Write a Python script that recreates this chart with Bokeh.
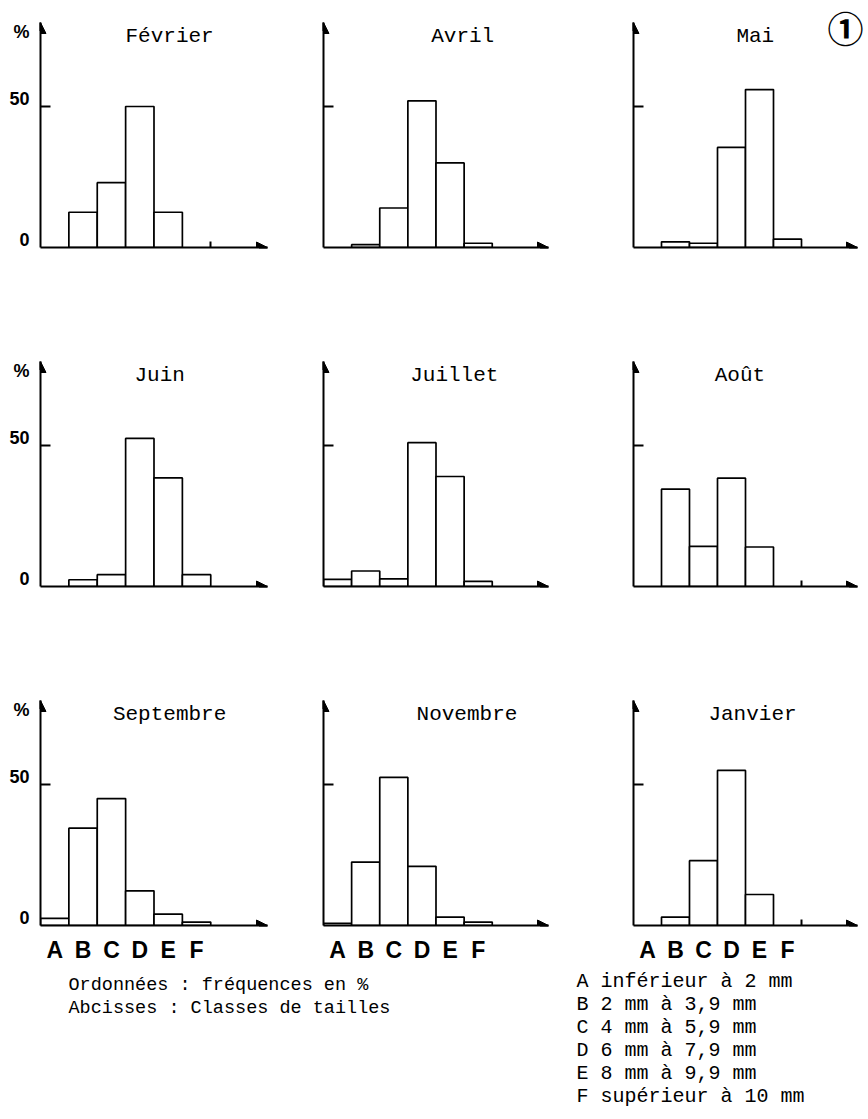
from bokeh.plotting import figure
from bokeh.layouts import column, row
from bokeh.models import (Range1d, FixedTicker, Arrow, NormalHead, Label,
                          LinearAxis, ColumnDataSource)
from bokeh.embed import file_html
from bokeh.resources import INLINE
from bokeh.core.properties import value

# ---------------- data ----------------
classes = ["A", "B", "C", "D", "E", "F"]
months = ["Février", "Avril", "Mai",
          "Juin", "Juillet", "Août",
          "Septembre", "Novembre", "Janvier"]
fevrier   = [0.0, 12.5, 23.0, 50.0, 12.5, 0.0]
avril     = [0.0, 1.0, 14.0, 52.0, 30.0, 1.5]
mai       = [0.0, 2.0, 1.5, 35.5, 56.0, 3.0]
juin      = [0.0, 2.4, 4.2, 52.5, 38.5, 4.2]
juillet   = [2.5, 5.5, 2.7, 51.0, 39.0, 1.8]
aout      = [0.0, 34.5, 14.2, 38.4, 14.0, 0.0]
septembre = [2.5, 34.5, 45.0, 12.3, 4.0, 1.2]
novembre  = [0.8, 22.5, 52.5, 21.0, 3.0, 1.2]
janvier   = [0.0, 3.0, 23.0, 55.0, 11.0, 0.0]
series = [fevrier, avril, mai, juin, juillet, aout, septembre, novembre, janvier]
y_labels = ["0", "50"]
y_label_values = [0, 50]
unit_label = "%"
notes_left = ["Ordonnées : fréquences en %", "Abcisses : Classes de tailles"]
notes_right = ["A inférieur à 2 mm", "B 2 mm à 3,9 mm", "C 4 mm à 5,9 mm",
               "D 6 mm à 7,9 mm", "E 8 mm à 9,9 mm", "F supérieur à 10 mm"]
figure_number = "①"

# ---------------- layout ----------------
PX_PER_PCT = 141 / 50
FRAME_H = 225
Y_TOP = FRAME_H / PX_PER_PCT
LABEL_LIFT = 2.6                      # tick labels sit slightly above their tick
Y_PCT = round(Y_TOP - 3.2, 2)
X_END = 8
col_w = [290, 310, 266]
b_left = [40, 33, 33]
frame_w = [227, 225, 224]
row_h = [300, 340, 325]
b_top = [22, 61, 60]
title_x = [4.55, 4.95, 4.35, 4.2, 4.65, 3.8, 4.55, 5.1, 4.25]
SANS = "Liberation Sans"
MONO = "Liberation Mono"


def panel(k):
    r, c = divmod(k, 3)
    vals = series[k]
    top_b = b_top[r]
    right_b = col_w[c] - b_left[c] - frame_w[c]
    x_hi, y_hi = X_END, Y_TOP
    if r == 0:
        # frame reaches the canvas top so the figure number can sit inside it
        y_hi = Y_TOP * (FRAME_H + top_b) / FRAME_H
        top_b = 0
    if k == 2:
        x_hi = X_END * (col_w[c] - b_left[c]) / frame_w[c]
        right_b = 0
    p = figure(width=col_w[c], height=row_h[r],
               x_range=Range1d(0, x_hi), y_range=Range1d(0, y_hi),
               output_backend="svg", toolbar_location=None,
               x_axis_location=None, y_axis_location=None,
               min_border_left=b_left[c], min_border_right=right_b,
               min_border_top=top_b,
               min_border_bottom=row_h[r] - b_top[r] - FRAME_H)
    p.outline_line_color = None
    p.xgrid.visible = False
    p.ygrid.visible = False

    label_pos = [round(v + LABEL_LIFT, 2) for v in y_label_values]
    overrides = {lp: t for lp, t in zip(label_pos, y_labels)}
    overrides[Y_PCT] = unit_label
    ya = LinearAxis(ticker=FixedTicker(ticks=label_pos + [Y_PCT], minor_ticks=[50]),
                    bounds=(0, Y_TOP),
                    major_label_overrides=overrides,
                    axis_line_width=2, axis_line_color="black",
                    major_tick_line_color=None,
                    minor_tick_in=10, minor_tick_out=0,
                    minor_tick_line_width=2, minor_tick_line_color="black",
                    major_label_standoff=5,
                    major_label_text_font=SANS,
                    major_label_text_font_style="bold",
                    major_label_text_font_size="18px",
                    major_label_text_color="black" if c == 0 else None)
    p.add_layout(ya, "left")

    minor = [6] if vals[-1] == 0 else []
    if r == 2:
        pos = [i + 0.5 for i in range(len(classes))]
        xa = LinearAxis(ticker=FixedTicker(ticks=pos, minor_ticks=minor),
                        major_label_overrides={pv: cl for pv, cl in zip(pos, classes)},
                        major_tick_line_color=None,
                        major_label_standoff=5,
                        major_label_text_font=SANS,
                        major_label_text_font_style="bold",
                        major_label_text_font_size="23px",
                        major_label_text_color="black")
    else:
        xa = LinearAxis(ticker=FixedTicker(ticks=[], minor_ticks=minor),
                        major_tick_line_color=None,
                        major_label_text_color=None)
    xa.bounds = (0, X_END)
    xa.axis_line_width = 2
    xa.axis_line_color = "black"
    xa.minor_tick_in = 6
    xa.minor_tick_out = 0
    xa.minor_tick_line_width = 2
    xa.minor_tick_line_color = "black"
    p.add_layout(xa, "below")

    lefts = [i for i, v in enumerate(vals) if v > 0]
    src = ColumnDataSource(dict(left=lefts, right=[i + 1 for i in lefts],
                                top=[vals[i] for i in lefts],
                                cls=[classes[i] for i in lefts]))
    p.quad(left="left", right="right", bottom=0, top="top", source=src,
           fill_color="white", line_color="black", line_width=1.7)

    head = dict(size=11, fill_color="black", line_color="black")
    p.add_layout(Arrow(end=NormalHead(**head), x_start=X_END - 0.3, y_start=0,
                       x_end=X_END, y_end=0, line_width=2, line_color="black"))
    p.add_layout(Arrow(end=NormalHead(**head), x_start=0, y_start=Y_TOP - 3,
                       x_end=0, y_end=Y_TOP, line_width=2, line_color="black"))

    p.add_layout(Label(x=title_x[k], y=Y_TOP, y_offset=-14, text=months[k],
                       text_align="center", text_baseline="middle",
                       text_font=MONO, text_font_size="21px", text_color="black"))
    if k == 2:
        p.add_layout(Label(x=X_END, y=Y_TOP, x_offset=-12, y_offset=-4,
                           text=figure_number,
                           text_align="center", text_baseline="middle",
                           text_font="Noto Sans CJK JP", text_font_style="bold",
                           text_font_size="36px", text_color="black"))
    return p


figs = [panel(k) for k in range(9)]

NOTES_H = 150
notes = figure(width=866, height=NOTES_H, x_range=Range1d(0, 866),
               y_range=Range1d(NOTES_H, 0), output_backend="svg",
               toolbar_location=None, x_axis_location=None, y_axis_location=None,
               min_border=0)
notes.outline_line_color = None
notes.xgrid.visible = False
notes.ygrid.visible = False
notes.text(x=[68] * len(notes_left), y=[20 + 23 * i for i in range(len(notes_left))],
           text=notes_left, text_font=value(MONO), text_font_size="18.5px",
           text_baseline="middle", text_align="left", text_color="black")
notes.text(x=[576] * len(notes_right), y=[16 + 23 * i for i in range(len(notes_right))],
           text=notes_right, text_font=value(MONO), text_font_size="20px",
           text_baseline="middle", text_align="left", text_color="black")

layout = column(row(*figs[0:3]), row(*figs[3:6]), row(*figs[6:9]), notes)
open("out.html", "w").write(file_html(layout, INLINE))
